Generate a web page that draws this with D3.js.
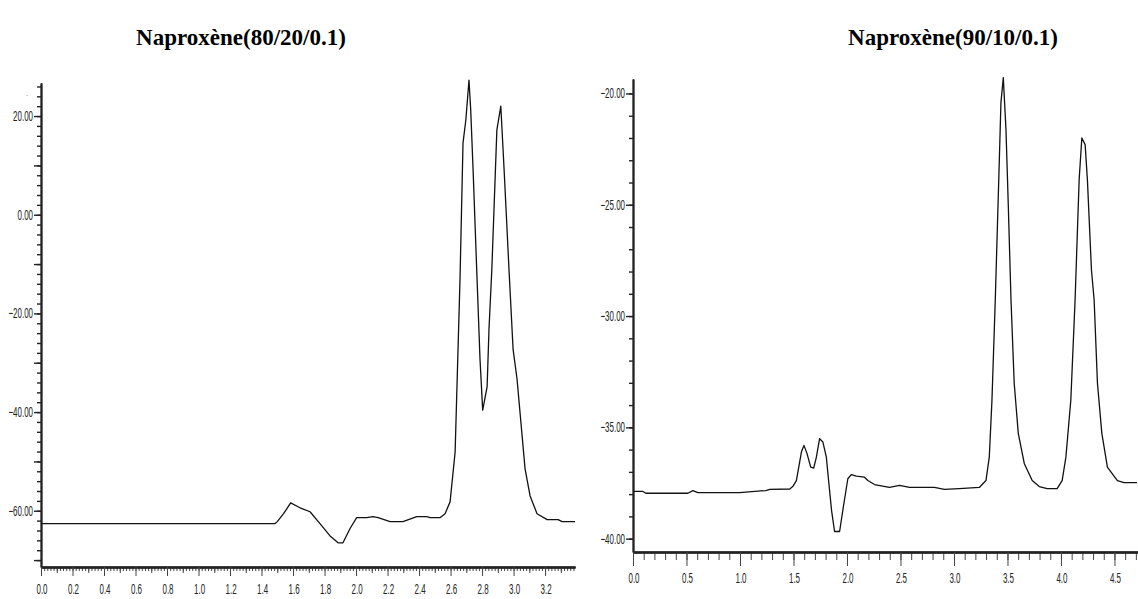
<!DOCTYPE html>
<html>
<head>
<meta charset="utf-8">
<script src="https://cdn.jsdelivr.net/npm/d3@7"></script>
<style>
  body { margin: 0; background: #fff; }
  svg { display: block; }
  .title { font-family: "Liberation Serif", "Times New Roman", serif; font-weight: bold; font-size: 23px; }
  .lbl { font-family: "Liberation Sans", Arial, sans-serif; font-size: 14.5px; fill: #222; }
</style>
</head>
<body>
<svg width="1138" height="599"></svg>
<script>
// chromatogram 1 : Naproxène 80/20/0.1 (time, signal)
var leftX = [0, 1.486, 1.50, 1.54, 1.585, 1.644, 1.708, 1.771, 1.835, 1.886, 1.917, 1.962, 2.004, 2.068, 2.108, 2.14,
  2.216, 2.298, 2.385, 2.449, 2.47, 2.533, 2.565, 2.597, 2.629, 2.66, 2.679, 2.697, 2.717, 2.728, 2.743, 2.766,
  2.787, 2.804, 2.832, 2.844, 2.862, 2.894, 2.919, 2.94, 2.971, 2.997, 3.022, 3.073, 3.105, 3.149, 3.213, 3.283,
  3.308, 3.39];
var leftY = [-62.6, -62.6, -62.2, -60.6, -58.4, -59.4, -60.2, -62.6, -65.1, -66.5, -66.5, -63.6, -61.4, -61.4, -61.2, -61.4,
  -62.2, -62.2, -61.2, -61.2, -61.4, -61.4, -60.6, -58.2, -48.1, -13.1, 14.5, 19.2, 27.3, 21.2, 9.1, -11.1,
  -29.3, -39.6, -34.9, -23.2, -11.1, 17.2, 22.0, 9.1, -11.1, -27.3, -33.3, -51.5, -57.0, -60.6, -61.8, -61.8,
  -62.2, -62.2];

// chromatogram 2 : Naproxène 90/10/0.1
var rightX = [0, 0.093, 0.121, 0.513, 0.56, 0.606, 0.998, 1.241, 1.278, 1.465, 1.493, 1.527, 1.574, 1.598, 1.626, 1.661,
  1.689, 1.714, 1.744, 1.775, 1.807, 1.828, 1.856, 1.884, 1.931, 1.968, 2.008, 2.04, 2.087, 2.164, 2.195, 2.257,
  2.397, 2.491, 2.584, 2.817, 2.91, 3.05, 3.237, 3.299, 3.33, 3.355, 3.386, 3.424, 3.439, 3.461, 3.486, 3.507,
  3.533, 3.563, 3.601, 3.657, 3.731, 3.797, 3.871, 3.964, 4.011, 4.046, 4.092, 4.132, 4.17, 4.195, 4.226, 4.247,
  4.285, 4.31, 4.341, 4.382, 4.434, 4.527, 4.59, 4.711];
var rightY = [-37.88, -37.88, -37.96, -37.96, -37.84, -37.93, -37.93, -37.84, -37.79, -37.77, -37.66, -37.39, -36.11, -35.81, -36.17, -36.79,
  -36.83, -36.34, -35.51, -35.66, -36.34, -37.39, -38.74, -39.68, -39.68, -38.51, -37.31, -37.12, -37.19, -37.24, -37.39, -37.57,
  -37.7, -37.61, -37.7, -37.7, -37.79, -37.75, -37.7, -37.39, -36.34, -33.78, -29.28, -22.97, -20.41, -19.29, -21.62, -24.91,
  -29.28, -33.02, -35.27, -36.62, -37.39, -37.66, -37.75, -37.75, -37.39, -36.34, -33.78, -29.28, -23.87, -22.0, -22.3, -23.87,
  -27.93, -29.28, -33.02, -35.27, -36.79, -37.39, -37.48, -37.48];

var titles = ["Naproxène(80/20/0.1)", "Naproxène(90/10/0.1)"];

var svg = d3.select("svg");

function tickRange(a, b, step) {
  var n = Math.round((b - a) / step), out = [];
  for (var i = 0; i <= n; i++) out.push(+(a + i * step).toFixed(4));
  return out;
}

function panel(cfg) {
  var x = d3.scaleLinear().domain(cfg.xDomain).range(cfg.xRange);
  var y = d3.scaleLinear().domain(cfg.yDomain).range(cfg.yRange);
  var g = svg.append("g");

  // y ticks (minor, medium, major)
  [[cfg.yMinor, 4], [cfg.yMid, 7], [cfg.yMajor, 7]].forEach(function(t) {
    g.append("g")
        .attr("transform", "translate(" + cfg.xRange[0] + ",0)")
        .call(d3.axisLeft(y).tickValues(t[0]).tickSize(t[1]).tickSizeOuter(0).tickFormat(""))
        .call(function(a) {
          a.select(".domain").attr("stroke", "#222").attr("stroke-width", 1.6);
          a.selectAll(".tick line").attr("stroke", "#222").attr("stroke-width", 1.4);
        });
  });

  // x ticks
  [[cfg.xMinor, cfg.xTick[0]], [cfg.xMid, cfg.xTick[1]], [cfg.xMajor, cfg.xTick[2]]].forEach(function(t) {
    g.append("g")
        .attr("transform", "translate(0," + cfg.yRange[0] + ")")
        .call(d3.axisBottom(x).tickValues(t[0]).tickSize(t[1]).tickSizeOuter(0).tickFormat(""))
        .call(function(a) {
          a.select(".domain").attr("stroke", "#222").attr("stroke-width", 2);
          a.selectAll(".tick line").attr("stroke", "#444").attr("stroke-width", 1);
        });
  });

  // narrow tick labels
  g.selectAll(".ylbl")
    .data(cfg.yMajor)
    .enter().append("text")
      .attr("class", "lbl")
      .attr("text-anchor", "end")
      .attr("transform", function(d) {
        return "translate(" + (cfg.xRange[0] - 8) + "," + (y(d) + 5) + ") scale(0.55,1)";
      })
      .text(function(d) { return d3.format(".2f")(d); });

  g.selectAll(".xlbl")
    .data(cfg.xMajor)
    .enter().append("text")
      .attr("class", "lbl")
      .attr("text-anchor", "middle")
      .attr("transform", function(d) {
        return "translate(" + (x(d) + 1) + "," + (cfg.yRange[0] + cfg.xLabelDy) + ") scale(0.55,1)";
      })
      .text(function(d) { return d3.format(cfg.xFmt)(d); });

  var line = d3.line()
      .x(function(d) { return x(d[0]); })
      .y(function(d) { return y(d[1]); });

  g.append("path")
      .datum(d3.zip(cfg.xs, cfg.ys))
      .attr("fill", "none")
      .attr("stroke", "#111")
      .attr("stroke-width", 1.3)
      .attr("stroke-linejoin", "round")
      .attr("d", line);

  svg.append("text")
      .attr("class", "title")
      .attr("x", cfg.titleX)
      .attr("y", 45)
      .attr("text-anchor", "middle")
      .text(cfg.title);
}

panel({
  xs: leftX, ys: leftY, title: titles[0], titleX: 241,
  xDomain: [0, 3.39], xRange: [41, 575],
  yDomain: [-71.4, 26.7], yRange: [567, 83],
  yMinor: tickRange(-70, 26, 2), yMid: tickRange(-70, 10, 20), yMajor: tickRange(-60, 20, 20),
  xMinor: tickRange(0, 3.38, 0.02), xMid: tickRange(0.1, 3.3, 0.2), xMajor: tickRange(0, 3.2, 0.2),
  xTick: [4, 6, 9], xLabelDy: 27, xFmt: ".1f"
});

panel({
  xs: rightX, ys: rightY, title: titles[1], titleX: 953,
  xDomain: [0, 4.72], xRange: [633, 1138],
  yDomain: [-40.6, -19.35], yRange: [552, 79],
  yMinor: tickRange(-40, -20, 1), yMid: [], yMajor: tickRange(-40, -20, 5),
  xMinor: tickRange(0, 4.7, 0.1), xMid: [], xMajor: tickRange(0, 4.5, 0.5),
  xTick: [8, 8, 14], xLabelDy: 31, xFmt: ".1f"
});

// stray dot printed near the top of the first axis
svg.append("text")
    .attr("x", 26)
    .attr("y", 96)
    .attr("font-size", 8)
    .attr("fill", "#666")
    .text(".");
</script>
</body>
</html>
